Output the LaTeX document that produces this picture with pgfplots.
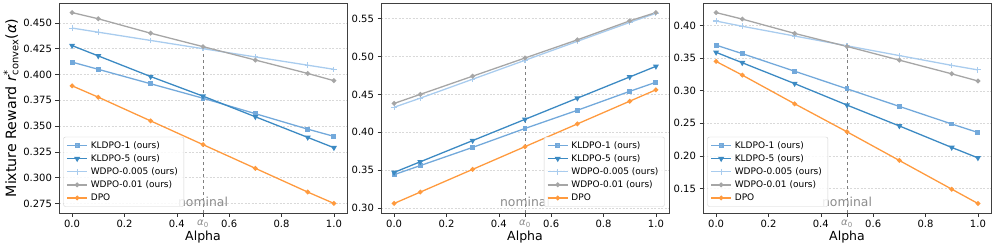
\documentclass[border=0pt]{standalone}
\usepackage{fontspec}
\setmainfont{DejaVu Sans}
\usepackage{pgfplots}
\pgfplotsset{compat=1.18}
\definecolor{kla}{HTML}{73A9DB}
\definecolor{klb}{HTML}{3C8AC3}
\definecolor{wda}{HTML}{A9CCEE}
\definecolor{wdb}{HTML}{A6A6A6}
\definecolor{dpo}{HTML}{FF9A3E}
\definecolor{nomc}{HTML}{8C8C8C}
\pgfplotsset{
  myax/.style={
    scale only axis, width=288pt, height=210pt,
    anchor=south west,
    xmin=-0.05, xmax=1.05,
    xtick={0,0.2,0.4,0.5,0.6,0.8,1.0},
    xticklabels={0.0,0.2,0.4,{\textcolor{nomc}{\textit{α}\textsubscript{0}}},0.6,0.8,1.0},
    xtick pos=lower, ytick pos=left, tick align=outside,
    major tick length=3.5pt,
    tick style={black!80, line width=0.6pt},
    axis line style={black!75, line width=0.7pt},
    ticklabel style={font=\fontsize{10}{12}\selectfont},
    /pgf/number format/assume math mode=true,
    ymajorgrids, major grid style={black!15, dash pattern=on 2pt off 1.5pt, line width=0.5pt},
    xlabel={Alpha}, xlabel style={font=\fontsize{12.5}{14}\selectfont, yshift=3pt},
    legend cell align=left,
    legend image code/.code={\draw[mark repeat=2,mark phase=2] plot coordinates {(0pt,0pt) (10pt,0pt) (20pt,0pt)};},
    legend style={font=\fontsize{9}{10}\selectfont, rounded corners=2pt, draw=black!18, fill=white, fill opacity=0.85, text opacity=1,
      row sep=0pt, nodes={inner xsep=3pt, inner ysep=2.2pt, text height=6.8pt, text depth=1.9pt}},
    every axis plot/.append style={line width=1.3pt},
  },
  kl1/.style={kla, mark=square*, mark size=1.8pt, mark options={solid}},
  kl5/.style={klb, mark=triangle*, mark size=2.2pt, mark options={solid, rotate=180}},
  wd5/.style={wda, mark=+, mark size=2.8pt, mark options={solid, line width=1.1pt}},
  wd1/.style={wdb, mark=*, mark size=1.7pt, mark options={solid}},
  dp/.style={dpo, mark=*, mark size=1.7pt, mark options={solid}},
  vline/.style={black!50, dashed, line width=0.8pt, forget plot},
}
\newcommand{\nominal}{\node[text=nomc, anchor=base, font=\fontsize{12.4}{14}\selectfont] at ([yshift=6.5pt]rel axis cs:0.5,0) {nominal};}
\begin{document}
\begin{tikzpicture}
% Panel 1
\begin{axis}[myax, at={(59pt,34pt)},
  ymin=0.2657, ymax=0.4693,
  ytick={0.275,0.300,0.325,0.350,0.375,0.400,0.425,0.450},
  yticklabel style={/pgf/number format/.cd, fixed, fixed zerofill, precision=3},
  ylabel={Mixture Reward \textit{r}\rlap{\textsuperscript{*}}\textsubscript{convex}(\textit{α})},
  ylabel style={font=\fontsize{14.2}{16}\selectfont, yshift=-2pt},
  legend style={at={(0.015,0.03)}, anchor=south west}]
\addplot[vline] coordinates {(0.5,0.2657) (0.5,0.427)};
\nominal
\addplot[kl1] coordinates {(0,0.412) (0.1,0.405) (0.3,0.391) (0.5,0.377) (0.7,0.362) (0.9,0.347) (1.0,0.340)};
\addplot[kl5] coordinates {(0,0.428) (0.1,0.418) (0.3,0.398) (0.5,0.379) (0.7,0.359) (0.9,0.339) (1.0,0.329)};
\addplot[wd5] coordinates {(0,0.445) (0.1,0.441) (0.3,0.433) (0.5,0.425) (0.7,0.417) (0.9,0.409) (1.0,0.405)};
\addplot[wd1] coordinates {(0,0.460) (0.1,0.454) (0.3,0.440) (0.5,0.427) (0.7,0.414) (0.9,0.401) (1.0,0.394)};
\addplot[dp] coordinates {(0,0.389) (0.1,0.378) (0.3,0.355) (0.5,0.332) (0.7,0.309) (0.9,0.286) (1.0,0.275)};
\legend{KLDPO-1 (ours),KLDPO-5 (ours),WDPO-0.005 (ours),WDPO-0.01 (ours),DPO}
\end{axis}
% Panel 2
\begin{axis}[myax, at={(381pt,34pt)},
  ymin=0.2934, ymax=0.5706,
  ytick={0.30,0.35,0.40,0.45,0.50,0.55},
  yticklabel style={/pgf/number format/.cd, fixed, fixed zerofill, precision=2},
  legend style={at={(0.985,0.03)}, anchor=south east}]
\addplot[vline] coordinates {(0.5,0.2934) (0.5,0.498)};
\nominal
\addplot[kl1] coordinates {(0,0.344) (0.1,0.356) (0.3,0.380) (0.5,0.405) (0.7,0.429) (0.9,0.454) (1.0,0.466)};
\addplot[kl5] coordinates {(0,0.347) (0.1,0.361) (0.3,0.389) (0.5,0.417) (0.7,0.445) (0.9,0.473) (1.0,0.487)};
\addplot[wd5] coordinates {(0,0.433) (0.1,0.445) (0.3,0.470) (0.5,0.495) (0.7,0.520) (0.9,0.545) (1.0,0.557)};
\addplot[wd1] coordinates {(0,0.438) (0.1,0.450) (0.3,0.474) (0.5,0.498) (0.7,0.522) (0.9,0.547) (1.0,0.558)};
\addplot[dp] coordinates {(0,0.306) (0.1,0.321) (0.3,0.351) (0.5,0.381) (0.7,0.411) (0.9,0.441) (1.0,0.456)};
\legend{KLDPO-1 (ours),KLDPO-5 (ours),WDPO-0.005 (ours),WDPO-0.01 (ours),DPO}
\end{axis}
% Panel 3
\begin{axis}[myax, at={(703pt,34pt)},
  ymin=0.1124, ymax=0.4347,
  ytick={0.15,0.20,0.25,0.30,0.35,0.40},
  yticklabel style={/pgf/number format/.cd, fixed, fixed zerofill, precision=2},
  legend style={at={(0.015,0.03)}, anchor=south west}]
\addplot[vline] coordinates {(0.5,0.1124) (0.5,0.369)};
\nominal
\addplot[kl1] coordinates {(0,0.370) (0.1,0.357) (0.3,0.330) (0.5,0.303) (0.7,0.276) (0.9,0.249) (1.0,0.236)};
\addplot[kl5] coordinates {(0,0.359) (0.1,0.343) (0.3,0.311) (0.5,0.278) (0.7,0.246) (0.9,0.213) (1.0,0.197)};
\addplot[wd5] coordinates {(0,0.407) (0.1,0.399) (0.3,0.384) (0.5,0.369) (0.7,0.354) (0.9,0.339) (1.0,0.332)};
\addplot[wd1] coordinates {(0,0.420) (0.1,0.410) (0.3,0.388) (0.5,0.368) (0.7,0.347) (0.9,0.326) (1.0,0.315)};
\addplot[dp] coordinates {(0,0.345) (0.1,0.324) (0.3,0.280) (0.5,0.237) (0.7,0.193) (0.9,0.149) (1.0,0.127)};
\legend{KLDPO-1 (ours),KLDPO-5 (ours),WDPO-0.005 (ours),WDPO-0.01 (ours),DPO}
\end{axis}
\pgfresetboundingbox
\useasboundingbox (0,0) rectangle (996pt,247pt);
\end{tikzpicture}
\end{document}
